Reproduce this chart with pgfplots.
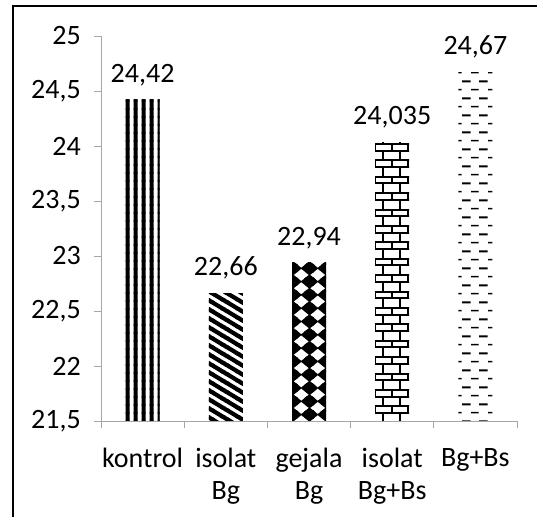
\documentclass[border=0pt]{standalone}
\usepackage{fontspec}
\setmainfont{Carlito}
\usepackage{pgfplots}
\pgfplotsset{compat=1.18}
\usetikzlibrary{patterns}

\pgfdeclarepatternformonly{rkvstripes}{\pgfpoint{-0.6bp}{-0.6bp}}{\pgfpoint{8.6bp}{8.6bp}}{\pgfpoint{8bp}{8bp}}{%
  \pgfpathrectangle{\pgfpoint{-0.6bp}{-0.6bp}}{\pgfpoint{2.2bp}{9.2bp}}%
  \pgfpathrectangle{\pgfpoint{5.6bp}{-0.6bp}}{\pgfpoint{3bp}{9.2bp}}%
  \pgfusepath{fill}}

\pgfdeclarepatternformonly{rkddiag}{\pgfpoint{-0.5bp}{-0.5bp}}{\pgfpoint{15.5bp}{9.5bp}}{\pgfpoint{15bp}{9bp}}{%
  \pgfsetlinewidth{4.2bp}%
  \pgfpathmoveto{\pgfpoint{-4bp}{11.4bp}}\pgfpathlineto{\pgfpoint{19bp}{-2.4bp}}%
  \pgfpathmoveto{\pgfpoint{-4bp}{2.4bp}}\pgfpathlineto{\pgfpoint{4bp}{-2.4bp}}%
  \pgfpathmoveto{\pgfpoint{11bp}{11.4bp}}\pgfpathlineto{\pgfpoint{19bp}{6.6bp}}%
  \pgfusepath{stroke}}

\def\dmd#1#2{%
  \pgfpathmoveto{\pgfpoint{#1bp-8.9bp}{#2bp}}%
  \pgfpathlineto{\pgfpoint{#1bp}{#2bp+7.2bp}}%
  \pgfpathlineto{\pgfpoint{#1bp+8.9bp}{#2bp}}%
  \pgfpathlineto{\pgfpoint{#1bp}{#2bp-7.2bp}}%
  \pgfpathclose}
\pgfdeclarepatternformonly{rkdiamonds}{\pgfpoint{-0.5bp}{-0.5bp}}{\pgfpoint{17bp}{13.8bp}}{\pgfpoint{16.5bp}{13.3bp}}{%
  \dmd{12.5}{9.3}\dmd{-4}{9.3}\dmd{12.5}{-4}\dmd{-4}{-4}%
  \dmd{29}{9.3}\dmd{29}{-4}\dmd{12.5}{22.6}\dmd{-4}{22.6}\dmd{29}{22.6}%
  \pgfusepath{fill}}

\pgfdeclarepatternformonly{rkbricks}{\pgfpoint{-0.5bp}{-0.5bp}}{\pgfpoint{17.2bp}{16.9bp}}{\pgfpoint{16.7bp}{16.4bp}}{%
  \pgfsetlinewidth{2bp}%
  \pgfpathmoveto{\pgfpoint{-1bp}{5.5bp}}\pgfpathlineto{\pgfpoint{17.7bp}{5.5bp}}%
  \pgfpathmoveto{\pgfpoint{-1bp}{12.2bp}}\pgfpathlineto{\pgfpoint{17.7bp}{12.2bp}}%
  \pgfpathmoveto{\pgfpoint{7.6bp}{5.5bp}}\pgfpathlineto{\pgfpoint{7.6bp}{12.2bp}}%
  \pgfpathmoveto{\pgfpoint{15.95bp}{12.2bp}}\pgfpathlineto{\pgfpoint{15.95bp}{17.4bp}}%
  \pgfpathmoveto{\pgfpoint{15.95bp}{-1bp}}\pgfpathlineto{\pgfpoint{15.95bp}{5.5bp}}%
  \pgfpathmoveto{\pgfpoint{-0.75bp}{12.2bp}}\pgfpathlineto{\pgfpoint{-0.75bp}{17.4bp}}%
  \pgfpathmoveto{\pgfpoint{-0.75bp}{-1bp}}\pgfpathlineto{\pgfpoint{-0.75bp}{5.5bp}}%
  \pgfusepath{stroke}}

\pgfdeclarepatternformonly{rkdashes}{\pgfpointorigin}{\pgfpoint{16.7bp}{16.7bp}}{\pgfpoint{16.7bp}{16.7bp}}{%
  \pgfsetlinewidth{1.6bp}%
  \pgfpathmoveto{\pgfpoint{4.1bp}{4.5bp}}\pgfpathlineto{\pgfpoint{11.7bp}{4.5bp}}%
  \pgfusepath{stroke}%
  \pgfsetlinewidth{2bp}%
  \pgfpathmoveto{\pgfpoint{-1bp}{12.85bp}}\pgfpathlineto{\pgfpoint{3.7bp}{12.85bp}}%
  \pgfpathmoveto{\pgfpoint{12.1bp}{12.85bp}}\pgfpathlineto{\pgfpoint{17.7bp}{12.85bp}}%
  \pgfusepath{stroke}}

\newcommand\lblfont{\fontsize{28bp}{32bp}\selectfont}

\begin{document}
\begin{tikzpicture}
\useasboundingbox (0,0) rectangle (537bp,517bp);
\fill[white] (0,0) rectangle (537bp,517bp);
\draw[line width=2bp] (13bp,0) -- (13bp,511bp) -- (537bp,511bp);
\begin{axis}[
  at={(101bp,96bp)}, anchor=south west,
  scale only axis, width=416bp, height=385bp,
  xmin=-0.5, xmax=4.5, ymin=21.5, ymax=25,
  axis lines*=left,
  axis line style={draw=gray!70, line width=0.8bp},
  tick style={draw=gray!70, line width=0.8bp},
  major tick length=7bp, tick align=outside,
  xtick={-0.5,0.5,1.5,2.5,3.5,4.5}, xticklabels={},
  extra x ticks={0,1,2,3,4},
  extra x tick labels={kontrol,{isolat\\Bg},{gejala\\Bg},{isolat\\Bg+Bs},{Bg+Bs}},
  extra x tick style={tick style={draw=none}},
  ytick={21.5,22,22.5,23,23.5,24,24.5,25},
  yticklabels={{21,5},22,{22,5},23,{23,5},24,{24,5},25},
  tick label style={font=\lblfont, inner sep=0pt, text=black},
  x tick label style={align=center, anchor=north, yshift=-20bp},
  y tick label style={anchor=east, xshift=-13bp},
  ybar, bar width=34bp, bar shift=0pt,
  point meta=explicit symbolic,
  nodes near coords,
  every node near coord/.append style={anchor=base, inner sep=0pt, yshift=17.5bp, font=\lblfont, text=black},
  clip=false,
]
\addplot[draw=none, pattern=rkvstripes] coordinates {(0,24.42) [24,42]};
\addplot[draw=none, pattern=rkddiag] coordinates {(1,22.66) [22,66]};
\addplot[draw=none, pattern=rkdiamonds] coordinates {(2,22.94) [22,94]};
\addplot[draw=none, pattern=rkbricks] coordinates {(3,24.035) [24,035]};
\addplot[draw=none, pattern=rkdashes] coordinates {(4,24.67) [24,67]};
\end{axis}
\end{tikzpicture}
\end{document}
